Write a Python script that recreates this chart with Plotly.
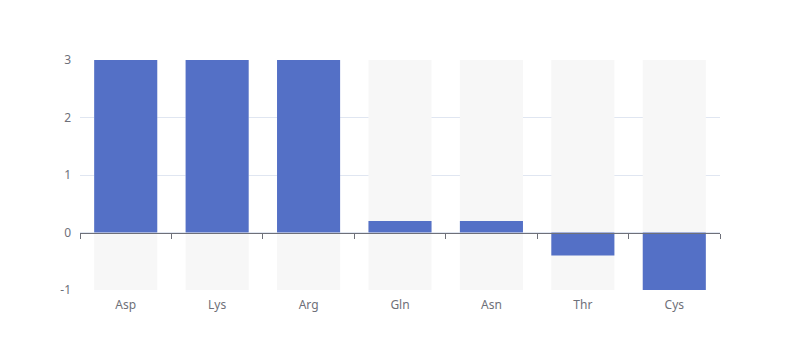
import plotly.graph_objects as go

categories = ["Asp", "Lys", "Arg", "Gln", "Asn", "Thr", "Cys"]
values = [3, 3, 3, 0.2, 0.2, -0.4, -1]
y_min, y_max = -1, 3
y_ticks = [-1, 0, 1, 2, 3]
y_tick_labels = ["-1", "0", "1", "2", "3"]

axis_color = "#6e7079"
grid_color = "#e0e6f1"
bar_color = "#5470c6"
bg_color = "#f7f7f7"

fig = go.Figure()
fig.add_trace(go.Bar(
    x=categories, y=[y_max - y_min] * len(categories), base=[y_min] * len(categories),
    marker=dict(color=bg_color, line=dict(width=0)), hoverinfo="skip", showlegend=False,
))
fig.add_trace(go.Bar(
    x=categories, y=values, marker=dict(color=bar_color, line=dict(width=0)),
    showlegend=False,
))

zero_pos = (0 - y_min) / (y_max - y_min)

fig.update_layout(
    width=800, height=360,
    margin=dict(l=72, r=88, t=52, b=78),
    paper_bgcolor="white", plot_bgcolor="white",
    barmode="overlay", bargap=0.31,
    font=dict(family="Noto Sans, DejaVu Sans, sans-serif", size=12, color=axis_color),
    xaxis=dict(
        showline=False, showgrid=False, ticks="", zeroline=False,
        tickfont=dict(size=12, color=axis_color), ticklabelstandoff=6,
    ),
    xaxis2=dict(
        overlaying="x", matches="x", anchor="free", position=zero_pos, side="bottom",
        showline=True, linecolor=axis_color, linewidth=1,
        ticks="outside", ticklen=5, tickcolor=axis_color, tickson="boundaries",
        showticklabels=False, showgrid=False, zeroline=False,
    ),
    yaxis=dict(
        range=[y_min, y_max], tickvals=y_ticks, ticktext=y_tick_labels,
        showgrid=True, gridcolor=grid_color,
        gridwidth=1, zeroline=False, showline=False, ticks="",
        tickfont=dict(size=12, color=axis_color), ticklabelstandoff=8,
    ),
)
fig.add_trace(go.Bar(x=categories, y=[None] * len(categories), xaxis="x2",
                     showlegend=False, hoverinfo="skip"))

fig.write_html("out.html")
